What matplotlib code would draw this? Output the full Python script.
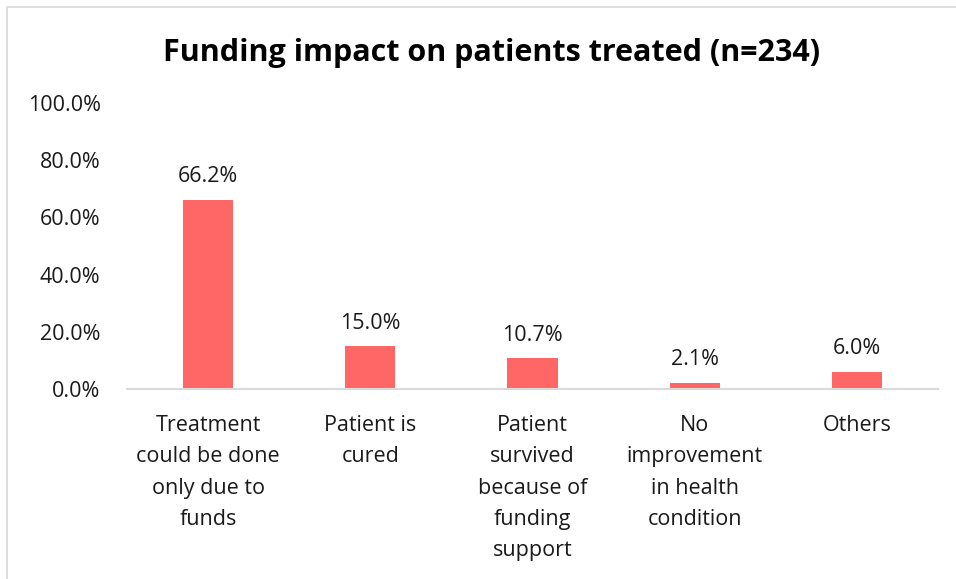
import matplotlib.pyplot as plt
from matplotlib.patches import Rectangle

categories = ["Treatment\ncould be done\nonly due to\nfunds",
              "Patient is\ncured",
              "Patient\nsurvived\nbecause of\nfunding\nsupport",
              "No\nimprovement\nin health\ncondition",
              "Others"]
values = [66.2, 15.0, 10.7, 2.1, 6.0]
y_ticks = [0, 20, 40, 60, 80, 100]

plt.rcParams['font.family'] = ['Open Sans', 'DejaVu Sans']

fig = plt.figure(figsize=(9.56, 5.79), dpi=100)
fig.patches.append(Rectangle((7/956, -0.1), 1.2, 1 - 7/579 + 0.1, transform=fig.transFigure,
                             fill=False, edgecolor="#d9d9d9", linewidth=1.2))

ax = fig.add_axes([127/956, 1 - 389/579, (938 - 127)/956, (389 - 103)/579])

x = range(len(categories))
ax.bar(x, values, width=0.31, color="#ff6666")

for i, v in enumerate(values):
    ax.annotate(f"{v:.1f}%", (i, v), xytext=(0, 9), textcoords="offset points",
                ha="center", va="bottom", fontsize=15.5, color="#1a1a1a")

ax.set_ylim(0, 100)
ax.set_xlim(-0.5, len(categories) - 0.5)
ax.set_yticks(y_ticks)
ax.set_yticklabels([f"{t:.1f}%" for t in y_ticks], fontsize=15.5, color="#1a1a1a")
ax.set_xticks(list(x))
ax.set_xticklabels(categories, fontsize=15.5, color="#1a1a1a", linespacing=1.63)
ax.tick_params(axis="y", length=0, pad=19)
ax.tick_params(axis="x", length=0, pad=19)

for s in ["top", "right", "left"]:
    ax.spines[s].set_visible(False)
ax.spines["bottom"].set_color("#d9d9d9")
ax.spines["bottom"].set_linewidth(1.5)

fig.text(492/956, 1 - 53/579, "Funding impact on patients treated (n=234)",
         ha="center", va="center", fontsize=22, fontweight="bold", color="black")

plt.savefig("out.png", dpi=100)
